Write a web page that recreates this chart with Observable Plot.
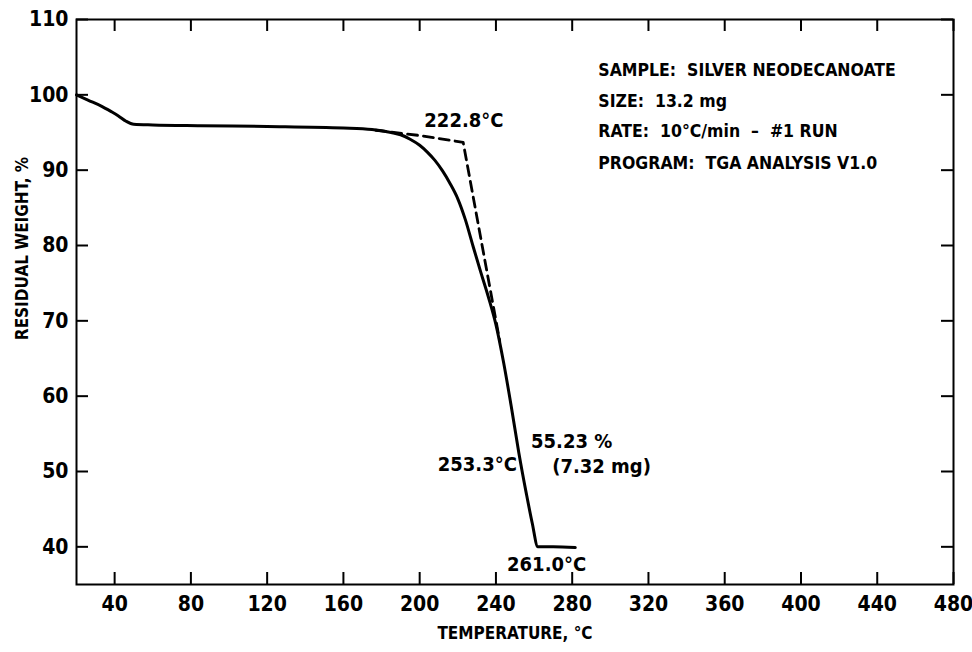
<!DOCTYPE html>
<html>
<head>
<meta charset="utf-8">
<script src="https://cdn.jsdelivr.net/npm/d3@7"></script>
<script src="https://cdn.jsdelivr.net/npm/@observablehq/plot@0.6"></script>
<style>
  html, body { margin: 0; padding: 0; background: #fff; }
  svg text { font-stretch: condensed; }
</style>
</head>
<body>
<div id="chart"></div>
<script>
// Solid TGA curve: temperature (°C) vs residual weight (%)
const temps   = [20, 26, 33, 38, 42, 46, 50, 60, 85, 120, 160, 175, 185, 190, 195, 200, 204, 208, 212, 216, 220, 224, 228, 232, 236, 240, 244, 248, 252, 256, 259, 262, 270, 281.6];
const weights = [100, 99.3, 98.5, 97.8, 97.2, 96.5, 96.1, 96.0, 95.9, 95.8, 95.6, 95.4, 95.0, 94.7, 94.1, 93.3, 92.4, 91.3, 89.9, 88.2, 86.2, 83.4, 79.9, 76.5, 73.2, 69.5, 64.5, 58.7, 52.5, 47.0, 43.2, 40.0, 40.0, 39.9];

// Dashed onset construction line
const onsetTemps   = [177, 200, 222.8, 242];
const onsetWeights = [95.3, 94.6, 93.7, 67.3];

// Axis ticks
const xTicks = [40, 80, 120, 160, 200, 240, 280, 320, 360, 400, 440, 480];
const yTicks = [40, 50, 60, 70, 80, 90, 100, 110];

// Annotations on the curve, grouped by text anchor
const annMiddle = [{s: "222.8°C", x: 223.2, y: 96.6}, {s: "261.0°C", x: 266.6, y: 37.6}];
const annEnd    = [{s: "253.3°C", x: 251, y: 50.9}];
const annStart  = [{s: "55.23 %", x: 258.4, y: 54.0}, {s: "(7.32 mg)", x: 269.5, y: 50.7}];

// Info block
const infoLines = ["SAMPLE:  SILVER NEODECANOATE", "SIZE:  13.2 mg", "RATE:  10°C/min  –  #1 RUN", "PROGRAM:  TGA ANALYSIS V1.0"];
const infoY = [103.2, 99.1, 95.1, 90.9];
const infoX = 293.7;

const xLabel = "TEMPERATURE, °C";
const yLabel = "RESIDUAL WEIGHT, %";

const curve = temps.map((t, i) => ({t, w: weights[i]}));
const onset = onsetTemps.map((t, i) => ({t, w: onsetWeights[i]}));
const info = infoLines.map((s, i) => ({s, y: infoY[i]}));

const W = 972, H = 652;
const mL = 76, mR = 19, mT = 19, mB = 68;
const pw = W - mL - mR, ph = H - mT - mB;
const tickLen = 12;
const font = "'DejaVu Sans Condensed', 'Liberation Sans Narrow', 'DejaVu Sans', sans-serif";

const chart = Plot.plot({
  width: W, height: H,
  marginLeft: mL, marginRight: mR, marginTop: mT, marginBottom: mB,
  style: {fontFamily: font, fontWeight: "bold", color: "#000", background: "#fff"},
  x: {domain: [20, 480]},
  y: {domain: [35, 110]},
  marks: [
    Plot.frame({stroke: "#000", strokeWidth: 2}),
    Plot.tickX(xTicks, {x: d => d, stroke: "#000", strokeWidth: 2, insetTop: ph - tickLen}),
    Plot.tickX(xTicks, {x: d => d, stroke: "#000", strokeWidth: 2, insetBottom: ph - tickLen}),
    Plot.tickY(yTicks, {y: d => d, stroke: "#000", strokeWidth: 2, insetRight: pw - tickLen}),
    Plot.tickY(yTicks, {y: d => d, stroke: "#000", strokeWidth: 2, insetLeft: pw - tickLen}),
    Plot.axisX(xTicks, {tickSize: 0, tickPadding: 12, fontSize: 21, label: null}),
    Plot.axisY(yTicks, {tickSize: 0, tickPadding: 8, fontSize: 21, label: null}),
    Plot.text([xLabel], {text: d => d, frameAnchor: "bottom", dy: 54, fontSize: 17}),
    Plot.text([yLabel], {text: d => d, frameAnchor: "left", y: () => 79.6, rotate: -90, dx: -54, textAnchor: "middle", fontSize: 17}),
    Plot.line(onset, {x: "t", y: "w", stroke: "#000", strokeWidth: 2.8, strokeDasharray: "10,6"}),
    Plot.line(curve, {x: "t", y: "w", stroke: "#000", strokeWidth: 3, curve: "monotone-x"}),
    Plot.text(annMiddle, {x: "x", y: "y", text: "s", textAnchor: "middle", fontSize: 20}),
    Plot.text(annEnd, {x: "x", y: "y", text: "s", textAnchor: "end", fontSize: 20}),
    Plot.text(annStart, {x: "x", y: "y", text: "s", textAnchor: "start", fontSize: 20}),
    Plot.text(info, {x: () => infoX, y: "y", text: "s", textAnchor: "start", fontSize: 17.5})
  ]
});
document.getElementById("chart").appendChild(chart);
</script>
</body>
</html>
